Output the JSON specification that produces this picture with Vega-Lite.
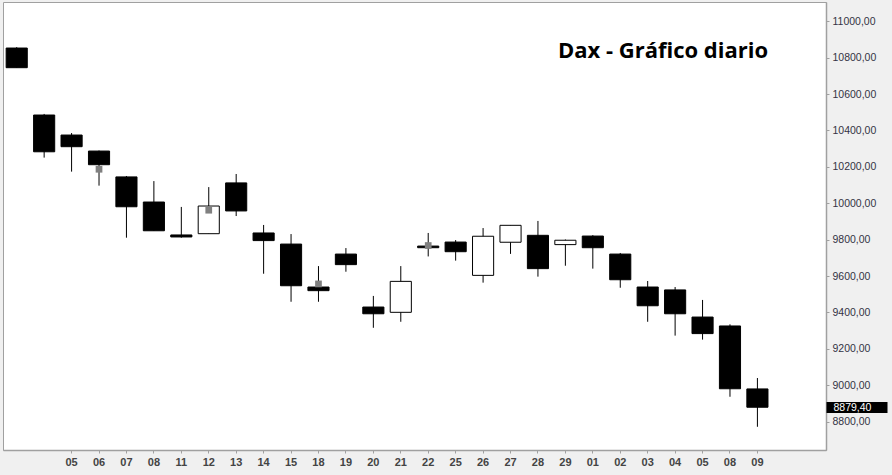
{
  "$schema": "https://vega.github.io/schema/vega-lite/v6.json",
  "description": "Dax - grafico diario de velas, 30 dic 2015 a 9 feb 2016",
  "width": 823,
  "height": 448,
  "autosize": {"type": "none"},
  "padding": {"left": 3, "top": 2, "right": 66, "bottom": 25},
  "background": "#f0f0f0",
  "title": {
    "text": "Dax - Gráfico diario",
    "orient": "top",
    "anchor": "start",
    "frame": "group",
    "align": "center",
    "baseline": "alphabetic",
    "dx": 660,
    "offset": -78,
    "font": "Open Sans",
    "fontSize": 22,
    "fontWeight": "bold",
    "color": "black"
  },
  "data": {
    "values": [
      {"fecha": "2015-12-30", "apertura": 10853, "alto": 10858, "bajo": 10745, "cierre": 10745},
      {"fecha": "2016-01-04", "apertura": 10485, "alto": 10491, "bajo": 10251, "cierre": 10283},
      {"fecha": "2016-01-05", "apertura": 10375, "alto": 10386, "bajo": 10174, "cierre": 10311},
      {"fecha": "2016-01-06", "apertura": 10287, "alto": 10290, "bajo": 10097, "cierre": 10212, "marca": 10187},
      {"fecha": "2016-01-07", "apertura": 10145, "alto": 10150, "bajo": 9811, "cierre": 9981},
      {"fecha": "2016-01-08", "apertura": 10007, "alto": 10122, "bajo": 9849, "cierre": 9849},
      {"fecha": "2016-01-11", "apertura": 9826, "alto": 9980, "bajo": 9811, "cierre": 9815},
      {"fecha": "2016-01-12", "apertura": 9833, "alto": 10089, "bajo": 9833, "cierre": 9985, "marca": 9962},
      {"fecha": "2016-01-13", "apertura": 10112, "alto": 10161, "bajo": 9930, "cierre": 9958},
      {"fecha": "2016-01-14", "apertura": 9837, "alto": 9881, "bajo": 9613, "cierre": 9795},
      {"fecha": "2016-01-15", "apertura": 9776, "alto": 9831, "bajo": 9459, "cierre": 9547},
      {"fecha": "2016-01-18", "apertura": 9540, "alto": 9655, "bajo": 9459, "cierre": 9520, "marca": 9557},
      {"fecha": "2016-01-19", "apertura": 9721, "alto": 9754, "bajo": 9624, "cierre": 9663},
      {"fecha": "2016-01-20", "apertura": 9430, "alto": 9491, "bajo": 9316, "cierre": 9393},
      {"fecha": "2016-01-21", "apertura": 9401, "alto": 9655, "bajo": 9349, "cierre": 9571},
      {"fecha": "2016-01-22", "apertura": 9765, "alto": 9837, "bajo": 9708, "cierre": 9756, "marca": 9768},
      {"fecha": "2016-01-25", "apertura": 9787, "alto": 9798, "bajo": 9685, "cierre": 9734},
      {"fecha": "2016-01-26", "apertura": 9604, "alto": 9864, "bajo": 9564, "cierre": 9819},
      {"fecha": "2016-01-27", "apertura": 9786, "alto": 9879, "bajo": 9722, "cierre": 9879},
      {"fecha": "2016-01-28", "apertura": 9824, "alto": 9903, "bajo": 9597, "cierre": 9641},
      {"fecha": "2016-01-29", "apertura": 9773, "alto": 9801, "bajo": 9657, "cierre": 9797},
      {"fecha": "2016-02-01", "apertura": 9820, "alto": 9825, "bajo": 9641, "cierre": 9756},
      {"fecha": "2016-02-02", "apertura": 9721, "alto": 9727, "bajo": 9536, "cierre": 9580},
      {"fecha": "2016-02-03", "apertura": 9540, "alto": 9573, "bajo": 9349, "cierre": 9437},
      {"fecha": "2016-02-04", "apertura": 9524, "alto": 9540, "bajo": 9273, "cierre": 9393},
      {"fecha": "2016-02-05", "apertura": 9375, "alto": 9469, "bajo": 9251, "cierre": 9284},
      {"fecha": "2016-02-08", "apertura": 9326, "alto": 9335, "bajo": 8937, "cierre": 8981},
      {"fecha": "2016-02-09", "apertura": 8980, "alto": 9040, "bajo": 8772, "cierre": 8879.4}
    ]
  },
  "encoding": {
    "x": {
      "field": "fecha",
      "type": "ordinal",
      "scale": {"paddingInner": 0, "paddingOuter": 1.035, "align": 0},
      "axis": {
        "title": null,
        "values": ["2016-01-05", "2016-01-06", "2016-01-07", "2016-01-08", "2016-01-11", "2016-01-12", "2016-01-13", "2016-01-14", "2016-01-15", "2016-01-18", "2016-01-19", "2016-01-20", "2016-01-21", "2016-01-22", "2016-01-25", "2016-01-26", "2016-01-27", "2016-01-28", "2016-01-29", "2016-02-01", "2016-02-02", "2016-02-03", "2016-02-04", "2016-02-05", "2016-02-08", "2016-02-09"],
        "labelExpr": "slice(datum.value, 8, 10)",
        "labelAngle": 0,
        "labelFont": "Liberation Sans",
        "labelFontSize": 11,
        "labelFontWeight": "bold",
        "labelColor": "#444444",
        "labelPadding": 3,
        "tickSize": 3,
        "tickColor": "#a0a0a0",
        "domainColor": "#a0a0a0",
        "domainWidth": 1.5
      }
    }
  },
  "layer": [
    {
      "mark": {"type": "rule", "color": "black", "strokeWidth": 1},
      "encoding": {
        "y": {
          "field": "bajo",
          "type": "quantitative",
          "title": null,
          "scale": {"domain": [8644.5, 11106], "nice": false, "zero": false},
          "axis": {
            "orient": "right",
            "title": null,
            "grid": false,
            "values": [8800, 9000, 9200, 9400, 9600, 9800, 10000, 10200, 10400, 10600, 10800, 11000],
            "labelExpr": "replace(format(datum.value, '.2f'), '.', ',')",
            "labelOverlap": false,
            "labelFont": "Liberation Sans",
            "labelFontSize": 10.5,
            "labelColor": "#333344",
            "labelPadding": 3,
            "tickSize": 3,
            "tickColor": "#a0a0a0",
            "domainColor": "#a0a0a0",
            "domainWidth": 1.5
          }
        },
        "y2": {"field": "alto"}
      }
    },
    {
      "mark": {"type": "bar", "stroke": "black", "strokeWidth": 1, "width": {"band": 0.77}},
      "encoding": {
        "y": {"field": "apertura", "type": "quantitative", "title": null, "axis": null},
        "y2": {"field": "cierre"},
        "fill": {
          "condition": {"test": "datum.cierre < datum.apertura", "value": "black"},
          "value": "white"
        }
      }
    },
    {
      "transform": [{"filter": "isValid(datum.marca)"}],
      "mark": {"type": "square", "filled": true, "size": 45, "color": "#808080", "opacity": 1},
      "encoding": {
        "y": {
          "field": "marca",
          "type": "quantitative",
          "title": null,
          "axis": {
            "orient": "right",
            "title": null,
            "grid": false,
            "domain": false,
            "values": [8879.4],
            "labelExpr": "replace(format(datum.value, '.2f'), '.', ',')",
            "labelOverlap": false,
            "labelFont": "Liberation Sans",
            "labelFontSize": 10.5,
            "labelColor": "white",
            "labelPadding": -54,
            "tickSize": 61,
            "tickWidth": 11,
            "tickColor": "black"
          }
        }
      }
    }
  ],
  "resolve": {"axis": {"y": "independent"}},
  "config": {
    "view": {"stroke": "#a0a0a0", "fill": "white"}
  }
}
